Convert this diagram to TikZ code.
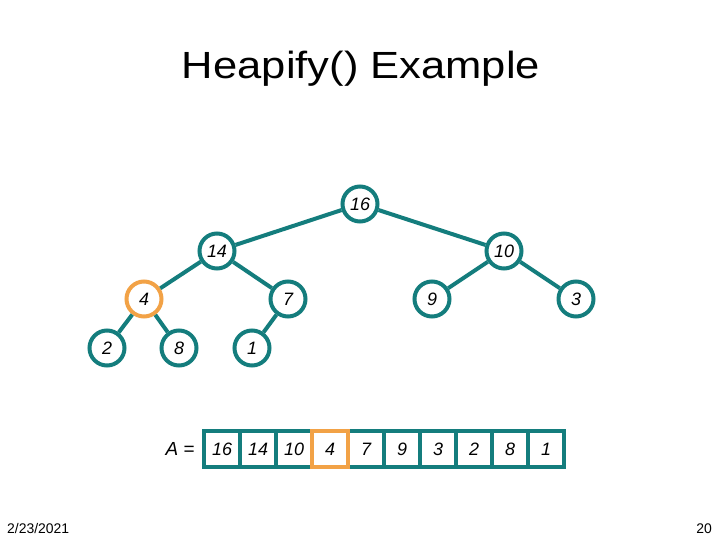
\documentclass[tikz,border=0pt]{standalone}
\usepackage{fontspec}
\setmainfont{Liberation Sans}
\newfontfamily\titlefont[FakeStretch=1.15]{Liberation Sans}
\usepackage{xcolor}
\definecolor{heapteal}{RGB}{20, 125, 125}
\definecolor{hlorange}{RGB}{242, 162, 70}
\usetikzlibrary{positioning}

\begin{document}
\begin{tikzpicture}[
  x=1bp, y=-1bp,
  on grid,
  heapnode/.style={circle, draw=heapteal, fill=white, line width=4bp, minimum size=35bp, inner sep=0pt, font=\fontsize{18}{22}\selectfont\itshape},
  hlnode/.style={heapnode, draw=hlorange},
  cell/.style={rectangle, draw=heapteal, fill=white, line width=4bp, minimum width=36bp, minimum height=36bp, inner sep=0pt, font=\fontsize{18}{22}\selectfont\itshape},
  hlcell/.style={cell, draw=hlorange},
  edge/.style={line width=4bp, color=heapteal}
]
\useasboundingbox (0,0) rectangle (720,540);

% title
\node[font=\titlefont\fontsize{38}{42}\selectfont, anchor=base] (title) at (361,79) {Heapify() Example};

% tree
\node[heapnode] (n16) at (360,204) {16};
\node[heapnode, below left=47bp and 143bp of n16] (n14) {14};
\node[heapnode, below right=47bp and 144bp of n16] (n10) {10};
\node[hlnode, below left=48bp and 73bp of n14] (n4) {4};
\node[heapnode, below right=48bp and 71bp of n14] (n7) {7};
\node[heapnode, below left=48bp and 72bp of n10] (n9) {9};
\node[heapnode, below right=48bp and 72bp of n10] (n3) {3};
\node[heapnode, below left=49bp and 37bp of n4] (n2) {2};
\node[heapnode, below right=49bp and 35bp of n4] (n8) {8};
\node[heapnode, below left=49bp and 36bp of n7] (n1) {1};

\draw[edge] (n16) -- (n14);
\draw[edge] (n16) -- (n10);
\draw[edge] (n14) -- (n4);
\draw[edge] (n14) -- (n7);
\draw[edge] (n10) -- (n9);
\draw[edge] (n10) -- (n3);
\draw[edge] (n4) -- (n2);
\draw[edge] (n4) -- (n8);
\draw[edge] (n7) -- (n1);

% array
\node[cell] (c1) at (222,449) {16};
\node[cell, right=36bp of c1] (c2) {14};
\node[cell, right=36bp of c2] (c3) {10};
\node[cell, right=36bp of c3] (c4) {4};
\node[cell, right=36bp of c4] (c5) {7};
\node[cell, right=36bp of c5] (c6) {9};
\node[cell, right=36bp of c6] (c7) {3};
\node[cell, right=36bp of c7] (c8) {2};
\node[cell, right=36bp of c8] (c9) {8};
\node[cell, right=36bp of c9] (c10) {1};
\node[hlcell] at (c4) (c4hl) {4};
\node[font=\fontsize{19}{23}\selectfont\itshape, left=42bp of c1] (alabel) {A =};

% footer
\node[font=\fontsize{14}{16}\selectfont, anchor=base west, inner sep=0pt] (date) at (7,533) {2/23/2021};
\node[font=\fontsize{14}{16}\selectfont, anchor=base east, inner sep=0pt] (page) at (712,533) {20};
\end{tikzpicture}
\end{document}
